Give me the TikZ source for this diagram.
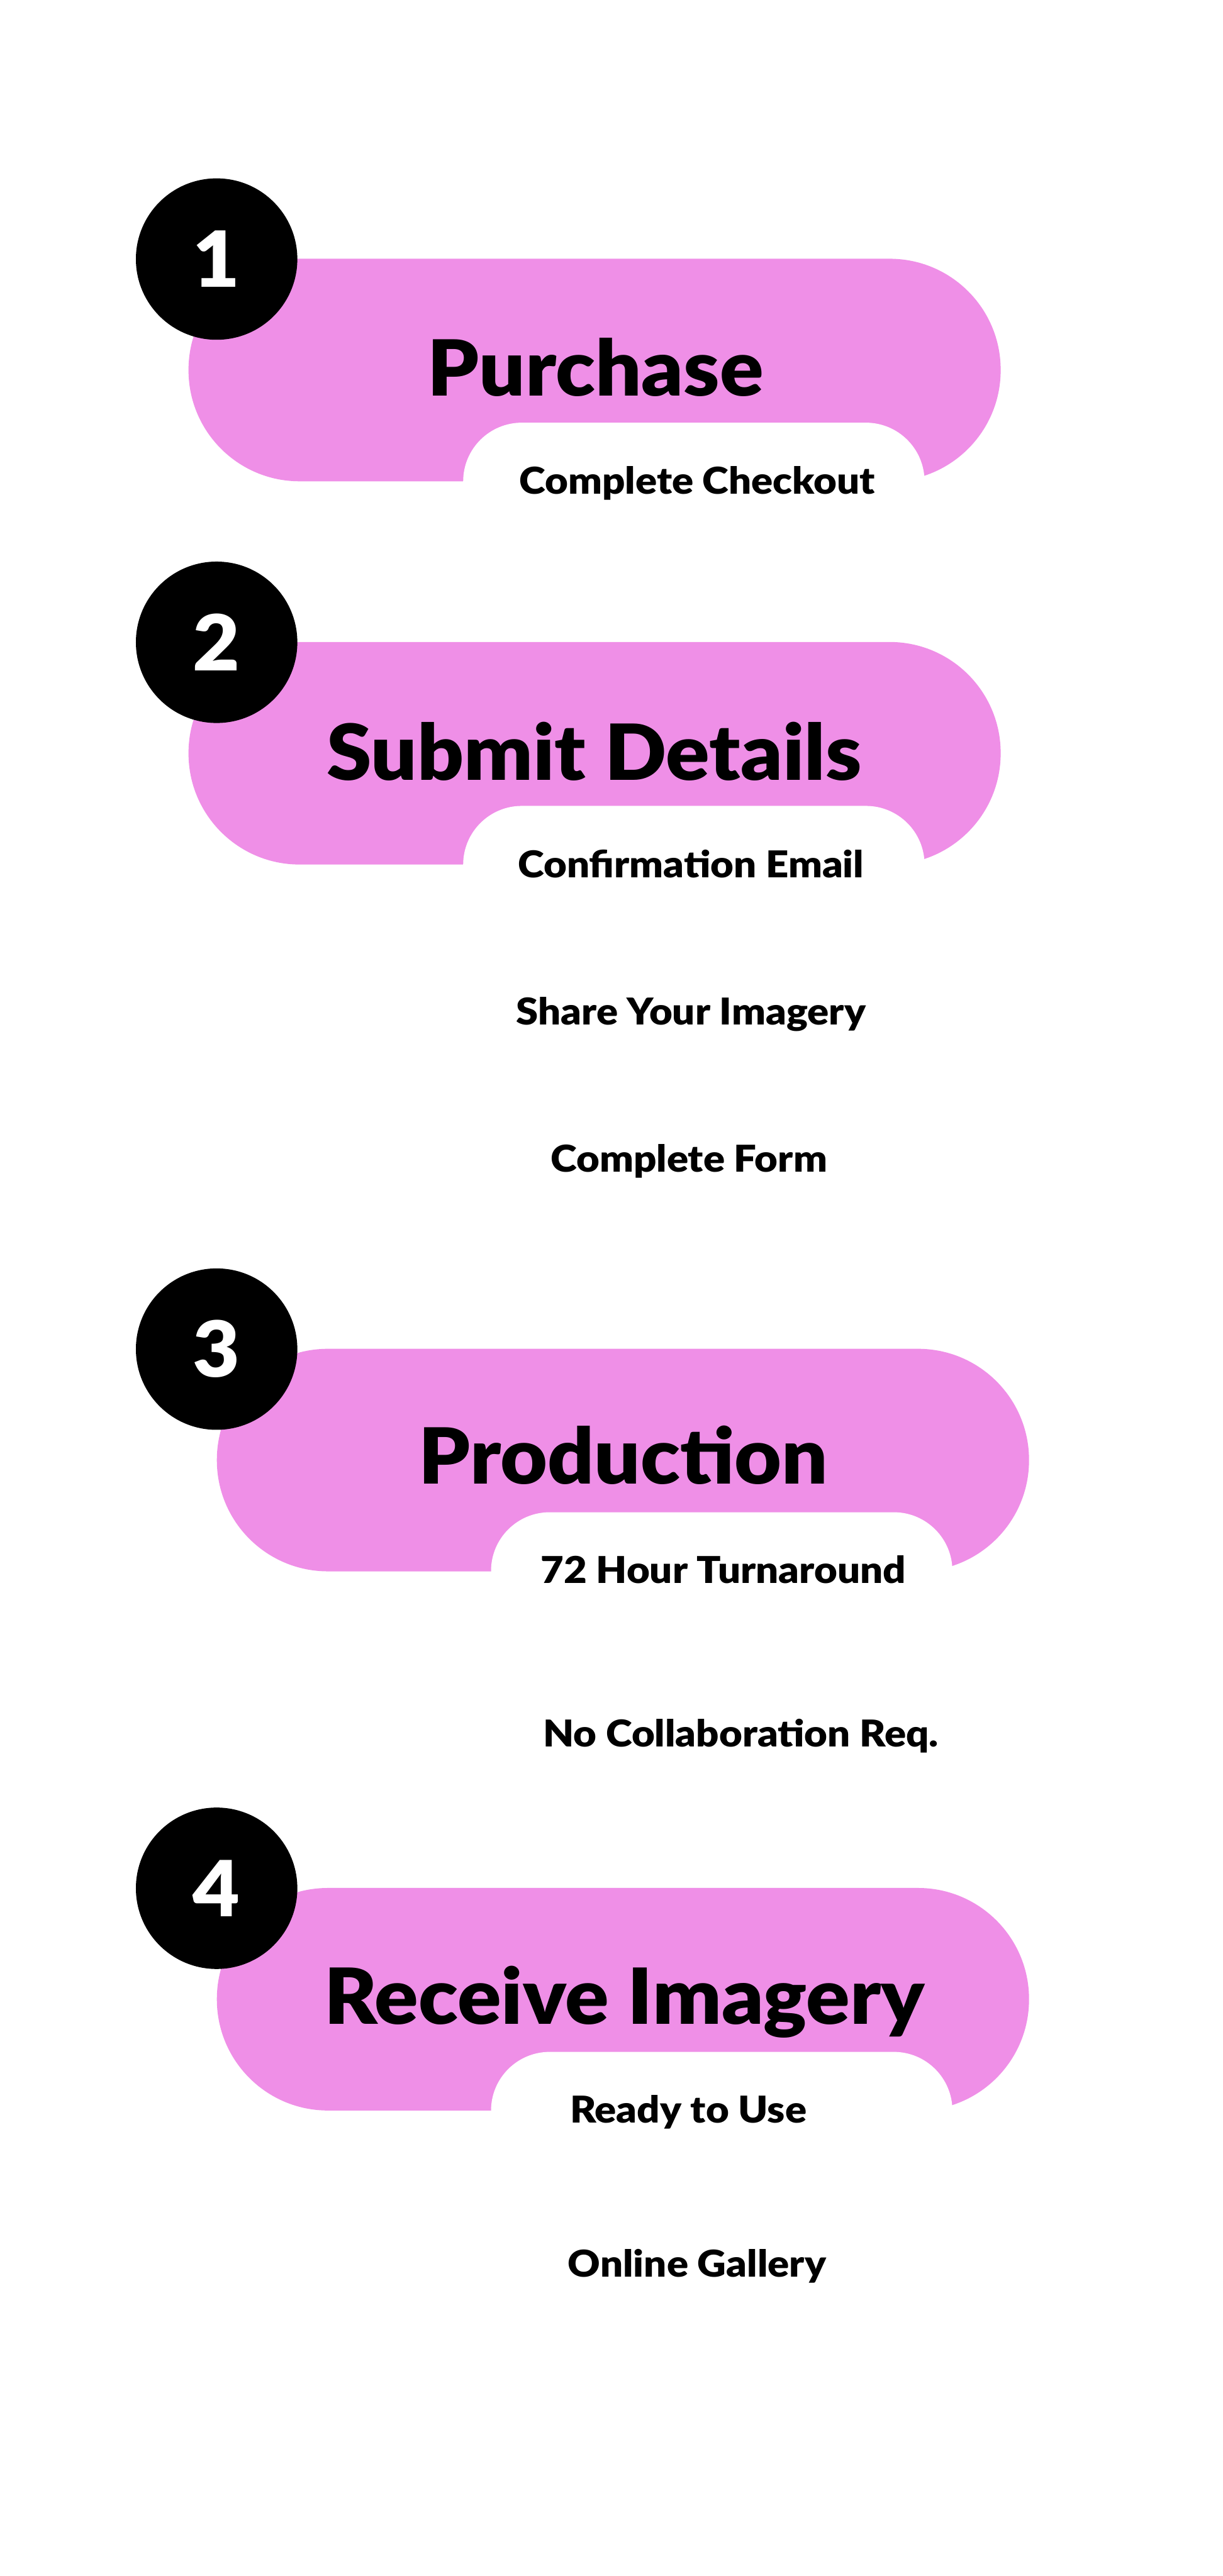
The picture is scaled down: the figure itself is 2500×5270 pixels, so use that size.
\documentclass[tikz,border=0pt]{standalone}
\usepackage{fontspec}
\setmainfont{Lato}[BoldFont={Lato Black}, BoldFeatures={FakeStretch=1.05}]
\newfontfamily\subfont{Lato Black}[FakeStretch=1.08]
\usepackage{tikz}
\usetikzlibrary{positioning}

\definecolor{barpink}{RGB}{239,143,231}

\begin{document}
\begin{tikzpicture}[
    x=0.01cm, y=-0.01cm,
    bar/.style={fill=barpink, rectangle, rounded corners=2.27cm, minimum width=16.6cm, minimum height=4.55cm, inner sep=0pt},
    tab/.style={fill=white, rectangle, rounded corners=1.2cm, minimum width=9.43cm, minimum height=2.6cm, inner sep=0pt, anchor=north},
    numdot/.style={fill=black, circle, minimum size=3.3cm, inner sep=0pt, text=white, font=\fontsize{45}{45}\selectfont\bfseries},
    title/.style={anchor=base, inner sep=0pt, font=\fontsize{45}{45}\selectfont\bfseries},
    sub/.style={anchor=base, inner sep=0pt, font=\fontsize{21.5}{21.5}\selectfont\subfont},
    subleft/.style={sub, anchor=base west},
]

\fill[white] (0,0) rectangle (2500,5270);
\useasboundingbox (0,0) rectangle (2500,5270);

% step 1
\node[bar] (bar1) at (1216,757) {};
\node[tab] (tab1) at (1419,864) {};
\node[numdot] (n1) at (443,530) {1};
\node[title] (t1) at (1218,810) {Purchase};
\node[sub] (s1) at (1426,1011) {Complete Checkout};

% step 2
\node[bar] (bar2) at (1216,1541) {};
\node[tab] (tab2) at (1419,1648) {};
\node[numdot] (n2) at (443,1314) {2};
\node[title] (t2) at (1215,1596) {Submit Details};
\node[sub] (s2a) at (1413,1795) {Confirmation Email};
\node[sub] (s2b) at (1413,2096) {Share Your Imagery};
\node[sub] (s2c) at (1409,2397) {Complete Form};

% step 3
\node[bar] (bar3) at (1274,2987) {};
\node[tab] (tab3) at (1476,3093) {};
\node[numdot] (n3) at (443,2760) {3};
\node[title] (t3) at (1275,3036) {Production};
\node[subleft] (s3a) at (1105,3239) {72 Hour Turnaround};
\node[subleft] (s3b) at (1110,3574) {No Collaboration Req.};

% step 4
\node[bar] (bar4) at (1274,4090) {};
\node[tab] (tab4) at (1476,4197) {};
\node[numdot] (n4) at (443,3863) {4};
\node[title] (t4) at (1277,4141) {Receive Imagery};
\node[subleft] (s4a) at (1165,4343) {Ready to Use};
\node[subleft] (s4b) at (1161,4658) {Online Gallery};

\end{tikzpicture}
\end{document}
